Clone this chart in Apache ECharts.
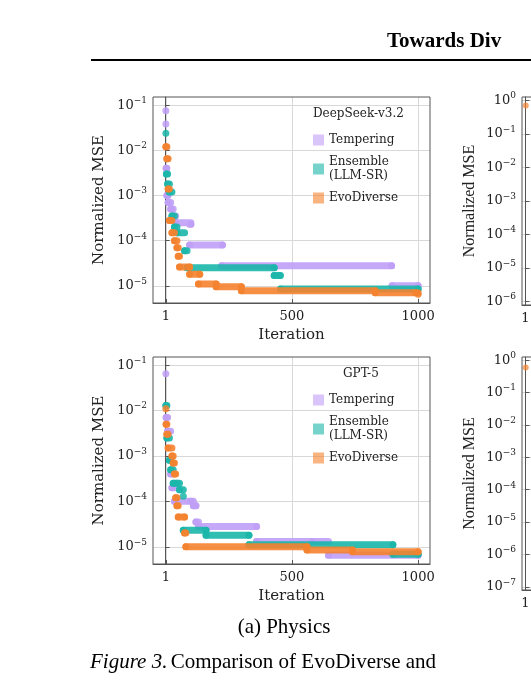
<!DOCTYPE html>
<html><head><meta charset="utf-8">
<script src="https://cdn.jsdelivr.net/npm/echarts@6/dist/echarts.min.js"></script>
<style>html,body{margin:0;padding:0;background:#fff}#c{width:531px;height:698px}</style>
</head><body><div id="c"></div>
<script>
// Data: [iteration, normalized MSE] breakpoints of best-so-far step curves
const dsTempering=[[1,0.075],[1,0.038],[2,0.004],[5,0.001],[10,0.0007],[20,0.0005],[30,0.00035],[40,0.00025],[100,0.00023],[95,0.00008],[225,0.00008],[222,0.000028],[895,0.000028],[897,0.00001],[1000,0.00001]];
const dsEnsemble=[[1,0.024],[3,0.003],[8,0.0018],[15,0.0012],[25,0.00035],[35,0.0002],[45,0.00015],[75,0.00006],[85,0.000025],[430,0.000025],[430,0.000017],[450,0.000017],[455,0.0000085],[1000,0.0000085]];
const dsEvo=[[1,0.012],[5,0.0065],[10,0.0014],[15,0.00028],[25,0.00015],[35,0.0001],[45,0.00007],[50,0.000045],[55,0.000026],[95,0.000026],[95,0.000018],[135,0.000018],[130,0.000011],[200,0.000011],[200,0.0000095],[300,0.0000095],[300,0.0000078],[830,0.0000078],[830,0.000007],[990,0.000007],[1000,0.0000065]];
const gpTempering=[[1,0.065],[2,0.007],[8,0.0035],[20,0.0004],[25,0.0002],[35,0.0001],[100,0.0001],[110,0.00008],[120,0.00008],[120,0.000035],[130,0.000028],[360,0.000028],[360,0.000013],[580,0.000013],[645,0.0000065],[1000,0.0000065]];
const gpEnsemble=[[1,0.013],[5,0.0025],[15,0.0008],[20,0.0005],[30,0.00025],[45,0.00025],[55,0.00018],[70,0.00013],[70,0.000023],[160,0.000023],[160,0.000018],[330,0.000018],[330,0.000011],[900,0.000011],[900,0.0000068],[1000,0.0000068]];
const gpEvo=[[1,0.011],[2,0.005],[5,0.003],[10,0.0015],[25,0.001],[30,0.0007],[35,0.0004],[40,0.00012],[45,0.00008],[50,0.000045],[75,0.000045],[75,0.00002],[80,0.00001],[560,0.00001],[560,0.0000085],[740,0.0000085],[740,0.0000078],[1000,0.0000078]];
const rightTop=[[5,0.7]];
const rightBot=[[5,0.6]];
const xTicks=[1,500,1000];
const yTicksLeft=[-5,-4,-3,-2,-1];
const yTicksRT=[-6,-5,-4,-3,-2,-1,0];
const yTicksRB=[-7,-6,-5,-4,-3,-2,-1,0];
const names=['Tempering','Ensemble\n(LLM-SR)','EvoDiverse'];
const colors=['#bf9ff7','#1ab6aa','#f5822f'];

const SERIF='DejaVu Serif';
const chart=echarts.init(document.getElementById('c'));
function fmt(v){if(Math.abs(v-Math.round(v))>1e-6)return '';const n=Math.round(v);return '{b|10}{s|'+(n<0?'−'+(-n):n)+'}';}
const rich={b:{fontFamily:SERIF,fontSize:13,color:'#222'},s:{fontFamily:SERIF,fontSize:9,color:'#222',verticalAlign:'top',padding:[0,0,9,0]}};
// plateaus only: horizontal segments, vertical jumps left as gaps
function plateaus(d){const out=[];for(let i=0;i<d.length-1;i++){const y=Math.log10(d[i][1]);out.push([d[i][0],y],[d[i+1][0],y],'-');}return out;}
const L=d=>d.map(p=>[p[0],Math.log10(p[1])]);
const grids=[
 {left:153,top:97,width:277,height:206},
 {left:153,top:357,width:277,height:207},
 {left:522,top:97,width:300,height:208},
 {left:522,top:357,width:300,height:233}];
const yr=[[-5.38,-0.82],[-5.38,-0.82],[-6.1,0.1],[-7.1,0.1]];
const yt=[yTicksLeft,yTicksLeft,yTicksRT,yTicksRB];
const xAxis=grids.map((g,i)=>({gridIndex:i,type:'value',min:-50,max:1047,
 axisLine:{show:true,onZero:false,lineStyle:{color:'#555'}},
 axisTick:{show:true,customValues:xTicks,length:-4,lineStyle:{color:'#555'}},
 axisLabel:{customValues:xTicks,formatter:v=>String(Math.round(v)),fontFamily:SERIF,fontSize:13,color:'#222',margin:7},
 splitLine:{show:true,lineStyle:{color:'#d8d8d8',width:1}},
 name:i<2?'Iteration':'',nameLocation:'middle',nameGap:25,nameTextStyle:{fontFamily:SERIF,fontSize:15,color:'#222'}}));
const yAxis=grids.map((g,i)=>({gridIndex:i,type:'value',min:yr[i][0],max:yr[i][1],
 axisLine:{show:true,lineStyle:{color:'#555'}},
 axisTick:{show:true,customValues:yt[i],length:-4,lineStyle:{color:'#555'}},
 axisLabel:{customValues:yt[i],formatter:fmt,rich:rich,margin:6},
 splitLine:{show:true,lineStyle:{color:'#d8d8d8',width:1}},
 name:'Normalized MSE',nameLocation:'middle',nameGap:i<2?43:44,
 nameTextStyle:{fontFamily:i<2?SERIF:'Liberation Serif',fontSize:i<2?15:16,color:'#222'}}));
const frames=grids.map((g,i)=>({type:'rect',shape:{x:g.left,y:g.top,width:g.width,height:g.height},style:{fill:null,stroke:'#555',lineWidth:1},z:10}));
function mk(data,i,g){return [
 {name:names[i],type:'line',xAxisIndex:g,yAxisIndex:g,data:plateaus(data),connectNulls:false,
  symbol:'none',itemStyle:{color:colors[i]},
  lineStyle:{color:colors[i],width:7,cap:'round',opacity:0.9},z:2+i,animation:false},
 {name:names[i],type:'scatter',xAxisIndex:g,yAxisIndex:g,data:L(data),symbolSize:7,
  itemStyle:{color:colors[i],opacity:0.85},z:2+i,animation:false}];}
const series=[...mk(dsTempering,0,0),...mk(dsEnsemble,1,0),...mk(dsEvo,2,0),...mk(gpTempering,0,1),...mk(gpEnsemble,1,1),...mk(gpEvo,2,1),
 {type:'scatter',xAxisIndex:2,yAxisIndex:2,data:L(rightTop),symbolSize:6,itemStyle:{color:colors[2],opacity:0.7}},
 {type:'scatter',xAxisIndex:3,yAxisIndex:3,data:L(rightBot),symbolSize:6,itemStyle:{color:colors[2],opacity:0.7}}];
const legendBase={orient:'vertical',itemWidth:11,itemHeight:11,itemGap:8,icon:'rect',
 textStyle:{fontFamily:SERIF,fontSize:12,color:'#222',lineHeight:14},
 data:names.map((n,i)=>({name:n,itemStyle:{color:colors[i],opacity:0.6}}))};
chart.setOption({
 animation:false,
 grid:grids,xAxis:xAxis,yAxis:yAxis,series:series,
 legend:[Object.assign({},legendBase,{left:308,top:128}),Object.assign({},legendBase,{left:308,top:388})],
 graphic:[...frames,
  {type:'text',left:313,top:108,style:{text:'DeepSeek-v3.2',font:'12px "DejaVu Serif"',fill:'#222'}},
  {type:'text',left:343,top:368,style:{text:'GPT-5',font:'12px "DejaVu Serif"',fill:'#222'}},
  {type:'text',left:387,top:31,style:{text:'Towards Div',font:'bold 21px "Liberation Serif"',fill:'#000'}},
  {type:'rect',shape:{x:91,y:59,width:440,height:2},style:{fill:'#000'}},
  {type:'text',x:284,y:617,style:{text:'(a) Physics',font:'21px "Liberation Serif"',fill:'#000',textAlign:'center'}},
  {type:'text',x:90,y:652,style:{rich:{i:{font:'italic 21px "Liberation Serif"',fill:'#000'},n:{font:'21px "Liberation Serif"',fill:'#000'}},text:'{i|Figure 3.} {n|Comparison of EvoDiverse and}'}}
 ]
});
</script></body></html>
